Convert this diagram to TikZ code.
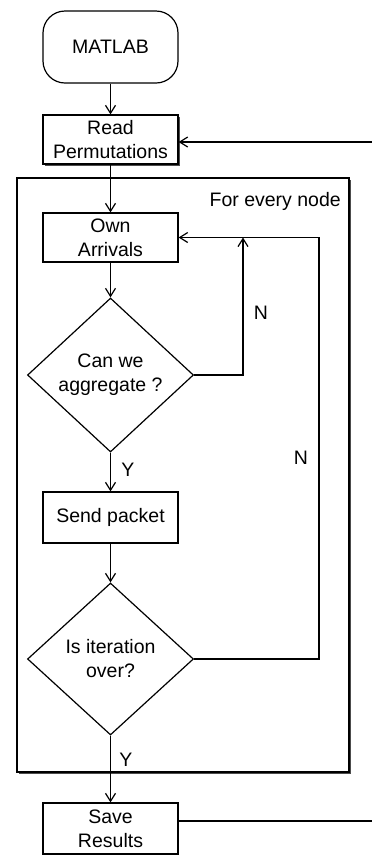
\documentclass[tikz,border=0pt]{standalone}
\usepackage{fontspec}
\setmainfont{Liberation Sans}
\usetikzlibrary{arrows.meta,shapes.geometric,shadows}
\begin{document}
\begin{tikzpicture}[x=1pt,y=-1pt,
 every node/.style={font=\fontsize{19.5}{24}\selectfont},
 box/.style={draw,line width=1.2pt,fill=white,minimum width=135pt,minimum height=49pt,align=center,inner sep=0pt},
 dec/.style={draw,shape=diamond,line width=1.2pt,fill=white,minimum width=166pt,minimum height=154pt,align=center,inner sep=0pt},
 shad/.style={drop shadow={shadow xshift=1.5pt,shadow yshift=-1.5pt,opacity=0.7,fill=black}},
 arr/.style={line width=1.2pt,-{Straight Barb[length=8pt,width=10pt,line width=1.2pt]}},
 ln/.style={line width=1.2pt},
 lbl/.style={inner sep=0pt}]
\useasboundingbox (0,0) rectangle (372,855);
\node[draw,line width=1.2pt,fill=white,shad,minimum width=332pt,minimum height=594pt,inner sep=0pt] (frame) at (183,475) {};
\node[lbl,anchor=east] (title) at (341,201) {For every node};
\node[draw,line width=1.2pt,fill=white,rounded corners=22pt,minimum width=135pt,minimum height=72pt,inner sep=0pt] (matlab) at (110.5,47) {MATLAB};
\node[box,shad] (read) at (110.5,139.5) {Read\\Permutations};
\node[box] (own) at (110.5,237.5) {Own\\Arrivals};
\node[dec] (d1) at (110.5,375) {Can we\\aggregate ?};
\node[box,minimum height=51pt] (send) at (110.5,517.5) {Send packet};
\node[dec,minimum height=152pt] (d2) at (110.5,659) {Is iteration\\over?};
\node[box,minimum height=51pt] (save) at (110.5,828.5) {Save\\Results};
\coordinate (n1) at (243,375);
\coordinate (n2) at (319,659);
\coordinate (fb) at (385,821);
\coordinate (fbt) at (385,142);
\draw[arr] (matlab) -- (read);
\draw[arr] (read) -- (own);
\draw[arr] (own) -- (d1);
\draw[arr] (d1) -- (send);
\draw[arr] (send) -- (d2);
\draw[arr] (d2) -- (save);
\draw[arr] (d1.east) -- (n1) -- (n1 |- own.east);
\draw[arr] (d2.east) -- (n2) -- (n2 |- own.east) -- (own.east);
\draw[arr] (save.east |- fb) -- (fb) -- (fbt) -- (read.east |- fbt);
\node[lbl] (ln1) at (261,313) {N};
\node[lbl] (ln2) at (301,458) {N};
\node[lbl] (ly1) at (128,470) {Y};
\node[lbl] (ly2) at (126,760) {Y};
\end{tikzpicture}
\end{document}
